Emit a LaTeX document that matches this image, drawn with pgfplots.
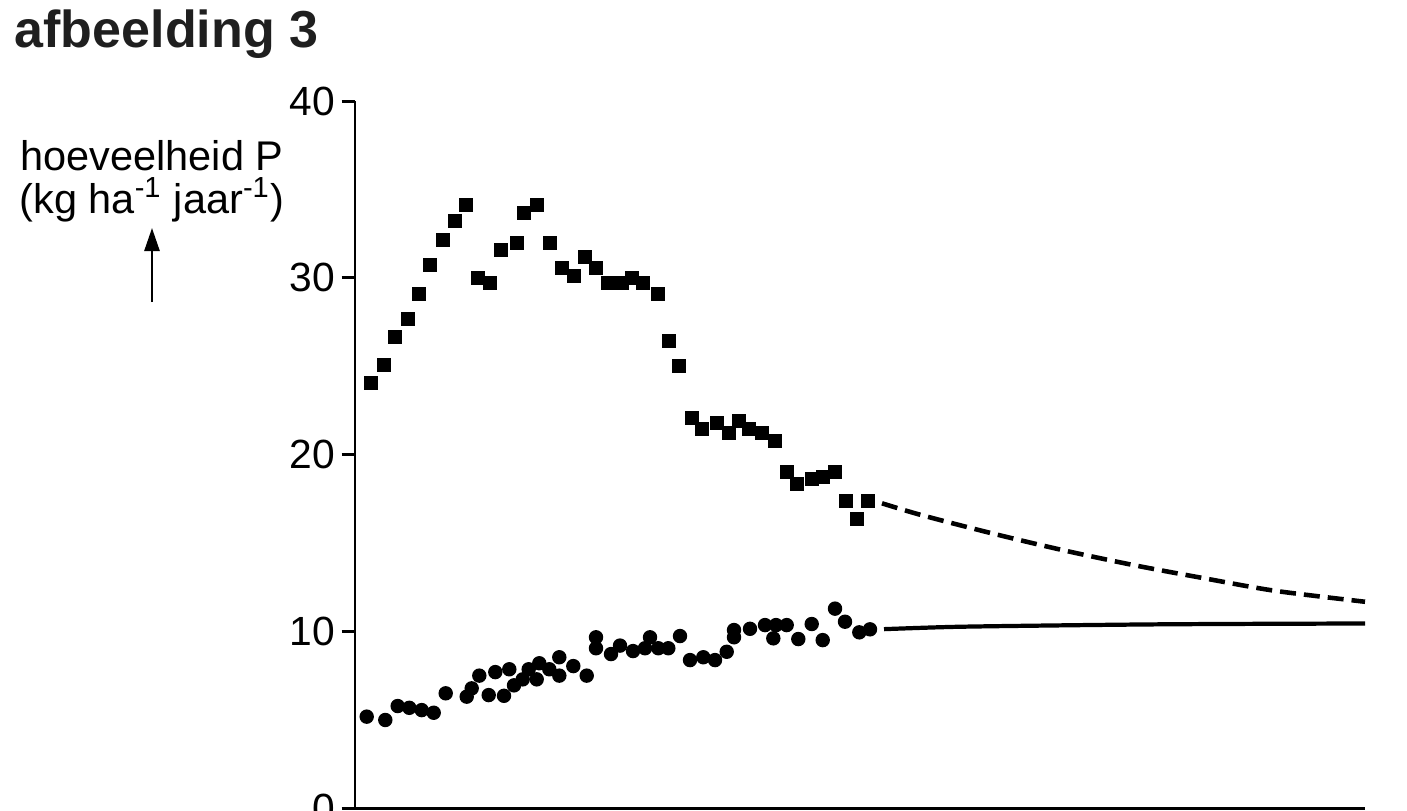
\documentclass[border=0pt]{standalone}
\usepackage{fontspec}
\setmainfont{Liberation Sans}
\usepackage{pgfplots}
\pgfplotsset{compat=1.18}
\usetikzlibrary{arrows.meta}

\begin{document}
\begin{tikzpicture}
\begin{axis}[
  at={(0,0)}, anchor=south west,
  scale only axis, width=10.1cm, height=7.07cm,
  xmin=0, xmax=101, ymin=0, ymax=40,
  axis x line*=bottom, axis y line*=left,
  xtick=\empty, ytick={0,10,20,30,40},
  tick align=outside, major tick length=1.35mm,
  axis line style={line width=0.85pt},
  every tick/.style={line width=0.85pt, black},
  tick label style={font=\fontsize{11.6}{13}\selectfont},
  yticklabel style={xshift=0.6mm},
  /pgf/number format/assume math mode=true,
  clip=false,
]
% squares (upper series)
\addplot[only marks, mark=square*, mark size=1.8pt, black] coordinates {
  (1.6,24.03) (2.87,25.05) (4.0,26.63) (5.27,27.68) (6.4,29.10)
  (7.53,30.72) (8.8,32.14) (10.0,33.23) (11.07,34.10) (12.27,29.97)
  (13.53,29.69) (14.6,31.55) (16.2,31.98) (16.93,33.65) (18.2,34.10)
  (19.47,31.98) (20.67,30.53) (21.87,30.10) (23.0,31.17) (24.07,30.53)
  (25.27,29.69) (26.67,29.69) (27.73,29.97) (28.83,29.69) (30.3,29.06)
  (31.43,26.44) (32.37,25.01) (33.7,22.05) (34.7,21.44) (36.17,21.77)
  (37.37,21.20) (38.43,21.90) (39.43,21.46) (40.7,21.20) (42.03,20.78)
  (43.17,19.01) (44.23,18.31) (45.7,18.60) (46.77,18.74) (47.97,19.01)
  (49.1,17.39) (50.23,16.33) (51.3,17.39)
};
% circles (lower series)
\addplot[only marks, mark=*, mark size=1.85pt, black] coordinates {
  (1.17,5.17) (3.03,4.98) (4.27,5.77) (5.43,5.67) (6.67,5.54)
  (7.87,5.39) (9.07,6.49) (11.17,6.30) (11.67,6.77) (12.43,7.49)
  (13.37,6.39) (14.03,7.69) (14.9,6.35) (15.43,7.85) (15.9,6.94)
  (16.77,7.28) (17.37,7.85) (18.17,7.28) (18.43,8.19) (19.43,7.85)
  (20.43,8.53) (20.43,7.49) (21.83,8.03) (23.17,7.49) (24.1,9.66)
  (24.1,9.04) (25.6,8.71) (26.5,9.19) (27.8,8.88) (29.0,9.04)
  (29.5,9.66) (30.33,9.04) (31.33,9.04) (32.5,9.73) (33.5,8.37)
  (34.83,8.53) (36.0,8.37) (37.17,8.84) (37.9,10.07) (37.9,9.66)
  (39.5,10.14) (41.0,10.35) (41.83,9.60) (42.1,10.35) (43.17,10.35)
  (44.33,9.56) (45.67,10.41) (46.77,9.50) (48.0,11.28) (49.0,10.54)
  (50.43,9.94) (51.5,10.11)
};
% projection of upper series
\addplot[smooth, black, line width=1.3pt, dash pattern=on 1.6mm off 0.8mm] coordinates {
  (52.7,17.24) (56.6,16.58) (63.7,15.54) (70.7,14.60) (77.8,13.75)
  (84.9,13.00) (92.0,12.29) (101,11.67)
};
% projection of lower series
\addplot[smooth, black, line width=1.2pt] coordinates {
  (52.9,10.12) (60,10.25) (70,10.33) (80,10.39) (90,10.42) (101,10.44)
};
\end{axis}
\node[anchor=base west, inner sep=0, text=black!88,
      font=\bfseries\fontsize{14.8}{17}\selectfont] at (-3.41,7.61) {afbeelding 3};
\node[anchor=base, inner sep=0, font=\fontsize{11.8}{14}\selectfont] at (-2.03,6.38) {hoeveelheid P};
\node[anchor=base, inner sep=0, font=\fontsize{11.8}{14}\selectfont] at (-2.03,5.95)
  {(kg ha\textsuperscript{-1} jaar\textsuperscript{-1})};
\draw[line width=0.75pt, -{Triangle[length=2.3mm,width=1.5mm]}] (-2.03,5.06) -- (-2.03,5.80);
\pgfresetboundingbox
\useasboundingbox (-3.55,-0.02) rectangle (10.52,8.08);
\end{tikzpicture}
\end{document}
